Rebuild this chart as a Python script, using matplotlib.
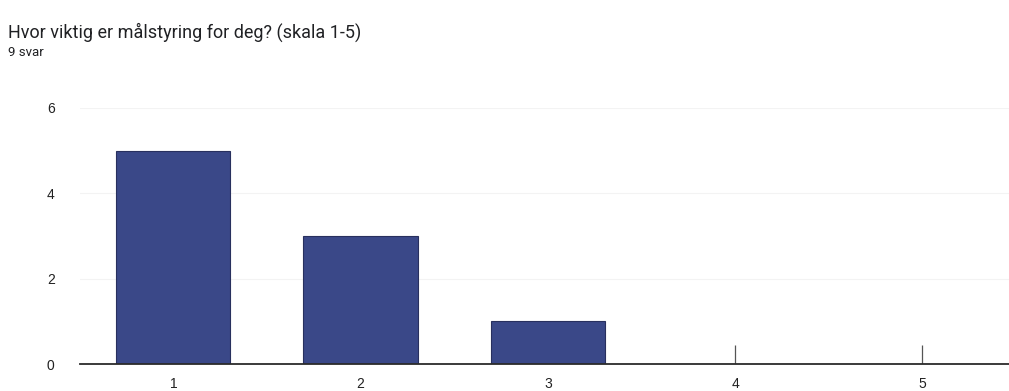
import matplotlib.pyplot as plt

categories = ['1', '2', '3', '4', '5']
counts = [5, 3, 1, 0, 0]
y_ticks = [0, 2, 4, 6]

title = 'Hvor viktig er målstyring for deg? (skala 1-5)'
subtitle = '9 svar'
bar_color = '#3a4888'

plt.rcParams['font.family'] = ['Roboto', 'DejaVu Sans']

fig = plt.figure(figsize=(10.09, 3.91), dpi=100)
ax = fig.add_axes([0.079, 0.069, 0.928, 0.655])

x = list(range(len(categories)))
ax.bar(x, counts, width=0.61, color=bar_color, edgecolor='#28305e', linewidth=0.8, zorder=3)

# Google Forms draws a small stub for empty categories
for xi, c in zip(x, counts):
    if c == 0:
        ax.vlines(xi, 0, 0.45, color='#555555', linewidth=0.9, zorder=3)

ax.set_xlim(-0.5, 4.5)
ax.set_ylim(0, 6)
ax.set_xticks(x)
ax.set_xticklabels(categories)
ax.set_yticks(y_ticks)
ax.tick_params(axis='both', length=0, labelsize=10, colors='#222222')
ax.tick_params(axis='x', pad=9)
ax.tick_params(axis='y', pad=18)
for lbl in ax.get_xticklabels() + ax.get_yticklabels():
    lbl.set_family(['Liberation Sans', 'DejaVu Sans'])
ax.grid(axis='y', color='#f3f3f3', linewidth=0.8, zorder=0)
for side in ['top', 'right', 'left']:
    ax.spines[side].set_visible(False)
ax.spines['bottom'].set_color('#2b2b2b')
ax.spines['bottom'].set_linewidth(1.3)
ax.spines['bottom'].set_zorder(4)

fig.text(0.008, 0.918, title, fontsize=13, color='#202124', va='center')
fig.text(0.008, 0.865, subtitle, fontsize=9.5, color='#202124', va='center')

fig.savefig('out.png', dpi=100)
